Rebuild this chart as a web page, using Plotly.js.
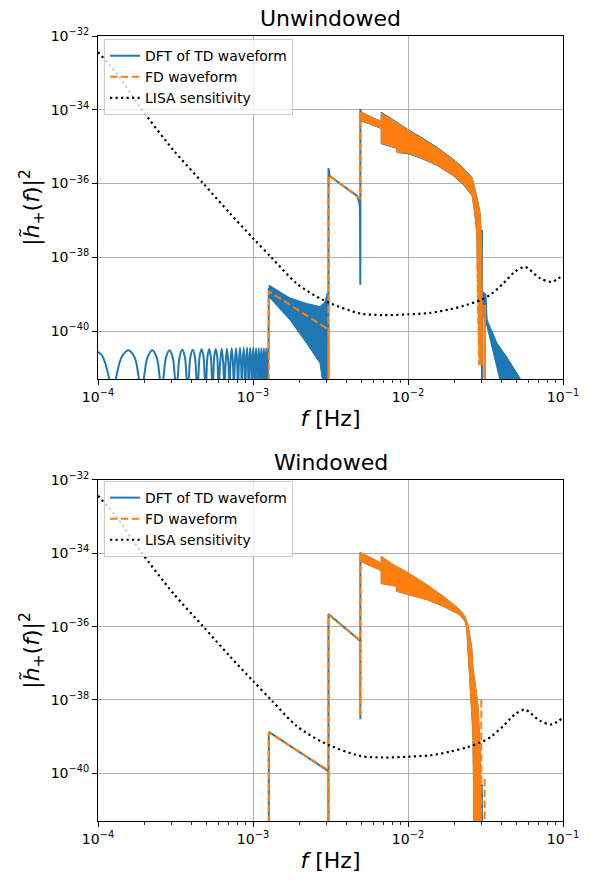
<!DOCTYPE html>
<html><head><meta charset="utf-8">
<script src="https://cdn.plot.ly/plotly-3.0.1.min.js"></script>
<style>html,body{margin:0;padding:0;background:#fff}</style>
</head><body><div id="chart" style="width:590px;height:890px"></div>
<script>
// ================= DATA =================
// Tick labels
const xTickVals = [1e-4, 1e-3, 1e-2, 1e-1];
const xTickText = ['10<sup>−4</sup>', '10<sup>−3</sup>', '10<sup>−2</sup>', '10<sup>−1</sup>'];
const yTickVals = [1e-40, 1e-38, 1e-36, 1e-34, 1e-32];
const yTickText = ['10<sup>−40</sup>', '10<sup>−38</sup>', '10<sup>−36</sup>', '10<sup>−34</sup>', '10<sup>−32</sup>'];
const xMinorVals = [2e-4,3e-4,4e-4,5e-4,6e-4,7e-4,8e-4,9e-4,2e-3,3e-3,4e-3,5e-3,6e-3,7e-3,8e-3,9e-3,2e-2,3e-2,4e-2,5e-2,6e-2,7e-2,8e-2,9e-2];

// LISA sensitivity curve
const lisaF = [1.0e-4, 1.32e-4, 1.87e-4, 3.06e-4, 4.78e-4, 7.1e-4, 1.0e-3, 1.32e-3, 1.91e-3, 2.84e-3, 4.9e-3, 6.93e-3, 1.0e-2, 1.39e-2, 1.87e-2, 2.39e-2, 2.92e-2, 3.38e-2, 4.12e-2, 4.9e-2, 5.69e-2, 6.12e-2, 7.11e-2, 8.45e-2, 1.0e-1];
const lisaS = [3.7e-33, 9.7e-34, 1.17e-34, 8.1e-36, 1.0e-36, 1.55e-37, 3.3e-38, 9.7e-39, 1.96e-39, 6.9e-40, 3.0e-40, 2.7e-40, 2.84e-40, 3.1e-40, 3.9e-40, 5.1e-40, 6.9e-40, 9.5e-40, 1.96e-39, 4.1e-39, 5.5e-39, 4.5e-39, 2.7e-39, 2.17e-39, 3.3e-39];

// ---- Unwindowed panel: DFT of TD waveform ----
// side lobes below 1.27 mHz
const dftTopLobeF = [
  1.00e-4, 1.06e-4, 1.11e-4, 1.17e-4, 1.235e-4,
  1.315e-4, 1.416e-4, 1.57e-4, 1.724e-4, 1.825e-4, 1.905e-4,
  1.985e-4, 2.086e-4, 2.24e-4, 2.394e-4, 2.495e-4, 2.575e-4,
  2.651e-4, 2.745e-4, 2.89e-4, 3.035e-4, 3.129e-4, 3.205e-4,
  3.275e-4, 3.363e-4, 3.4975e-4, 3.632e-4, 3.72e-4, 3.79e-4,
  3.86e-4, 3.948e-4, 4.0825e-4, 4.217e-4, 4.305e-4, 4.375e-4,
  4.443e-4, 4.529e-4, 4.66e-4, 4.791e-4, 4.877e-4, 4.945e-4,
  5.01e-4, 5.091e-4, 5.215e-4, 5.339e-4, 5.42e-4, 5.485e-4,
  5.549e-4, 5.628e-4, 5.75e-4, 5.872e-4, 5.951e-4, 6.015e-4,
  6.12e-4, 6.278e-4, 6.435e-4, 6.54e-4,
  6.641e-4, 6.793e-4, 6.944e-4, 7.045e-4,
  7.142e-4, 7.288e-4, 7.433e-4, 7.53e-4,
  7.626e-4, 7.77e-4, 7.914e-4, 8.01e-4,
  8.104e-4, 8.245e-4, 8.386e-4, 8.48e-4,
  8.57e-4, 8.705e-4, 8.84e-4, 8.93e-4,
  9.02e-4, 9.155e-4, 9.29e-4, 9.38e-4,
  9.469e-4, 9.603e-4, 9.736e-4, 9.825e-4,
  9.911e-4, 1.004e-3, 1.0169e-3, 1.0255e-3,
  1.0341e-3, 1.047e-3, 1.0599e-3, 1.0685e-3,
  1.0771e-3, 1.09e-3, 1.1029e-3, 1.1115e-3,
  1.1201e-3, 1.133e-3, 1.1459e-3, 1.1545e-3,
  1.1631e-3, 1.176e-3, 1.1889e-3, 1.1975e-3,
  1.2061e-3, 1.219e-3, 1.2319e-3, 1.2405e-3,
  1.2491e-3, 1.26e-3
];
const dftTopLobeH = [
  2.75e-41, 2.2e-41, 1.4e-41, 6e-42, 2e-42,
  6e-42, 1.9e-41, 3.0e-41, 1.9e-41, 6e-42, 2e-42,
  6e-42, 1.9e-41, 3.0e-41, 1.9e-41, 6e-42, 2e-42,
  6e-42, 1.9e-41, 3.0e-41, 1.9e-41, 6e-42, 2e-42,
  6e-42, 2.0e-41, 3.1e-41, 2.0e-41, 6e-42, 2e-42,
  6e-42, 2.0e-41, 3.1e-41, 2.0e-41, 6e-42, 2e-42,
  6e-42, 2.1e-41, 3.2e-41, 2.1e-41, 6e-42, 2e-42,
  6e-42, 2.1e-41, 3.2e-41, 2.1e-41, 6e-42, 2e-42,
  6e-42, 2.1e-41, 3.2e-41, 2.1e-41, 6e-42, 2e-42,
  1.2e-41, 3.3e-41, 1.2e-41, 2e-42,
  1.2e-41, 3.3e-41, 1.2e-41, 2e-42,
  1.2e-41, 3.4e-41, 1.2e-41, 2e-42,
  1.2e-41, 3.4e-41, 1.2e-41, 2e-42,
  1.2e-41, 3.5e-41, 1.2e-41, 2e-42,
  1.2e-41, 3.5e-41, 1.2e-41, 2e-42,
  1.2e-41, 3.6e-41, 1.2e-41, 2e-42,
  1.2e-41, 3.5e-41, 1.2e-41, 2e-42,
  1.2e-41, 3.5e-41, 1.2e-41, 2e-42,
  1.2e-41, 3.4e-41, 1.2e-41, 2e-42,
  1.2e-41, 3.4e-41, 1.2e-41, 2e-42,
  1.2e-41, 3.4e-41, 1.2e-41, 2e-42,
  1.2e-41, 3.4e-41, 1.2e-41, 2e-42,
  1.2e-41, 3.4e-41, 1.2e-41, 2e-42,
  1.2e-41, 3.4e-41
];
// edges of the harmonic segments and the cut-off spike
const dftTopLineF = [1.26e-3, 1.265e-3, null,
  3.065e-3, 3.07e-3, 3.12e-3, 4.70e-3, 4.85e-3, 4.90e-3, 4.925e-3, 4.93e-3, null,
  3.0e-2, 3.0e-2];
const dftTopLineH = [3.4e-41, 1.5e-39, null,
  1e-44, 2.6e-36, 1.6e-36, 4.6e-37, 3.0e-37, 2.2e-37, 1.8e-39, 1.05e-34, null,
  5.5e-38, 1e-44];
// dense oscillation band of the first harmonic (1.27 - 3.07 mHz)
const dftTopBandF = [1.265e-3, 1.733e-3, 2.221e-3, 2.704e-3, 2.914e-3, 3.013e-3, 3.02e-3, 2.842e-3, 2.704e-3, 2.221e-3, 1.733e-3, 1.265e-3];
const dftTopBandH = [1.77e-39, 7.9e-40, 5.6e-40, 4.6e-40, 6.2e-40, 1.05e-39, 3e-42, 3e-42, 1.35e-41, 4.6e-41, 2.0e-40, 8.5e-40];
// main lobe envelope (upper edge then lower edge back)
const dftTopMainF = [4.93e-3, 5.0e-3, 6.72e-3, 6.72e-3, 8.49e-3, 1.0e-2, 1.19e-2, 1.54e-2, 1.95e-2, 2.26e-2, 2.59e-2, 2.78e-2, 2.92e-2, 2.96e-2, 2.99e-2,
                     2.80e-2, 2.78e-2, 2.70e-2, 2.59e-2, 2.26e-2, 1.95e-2, 1.54e-2, 1.19e-2, 1.0e-2, 8.49e-3, 8.49e-3, 6.72e-3, 6.72e-3, 5.0e-3, 4.93e-3];
const dftTopMainH = [1.05e-34, 8.6e-35, 4.8e-35, 8.6e-35, 4.6e-35, 2.9e-35, 1.9e-35, 9.6e-36, 4.6e-36, 2.7e-36, 1.45e-36, 4.4e-37, 1.6e-37, 5.5e-38, 1.2e-38,
                     7e-39, 4.4e-38, 1.5e-37, 4.7e-37, 9.6e-37, 1.65e-36, 3.1e-36, 5.0e-36, 6.4e-36, 6.9e-36, 8.9e-36, 1.2e-35, 3.1e-35, 5.0e-35, 5.0e-35];
// tail above the cut-off
const dftTopTailF = [3.02e-2, 3.18e-2, 3.24e-2, 3.75e-2, 4.35e-2, 5.5e-2, 3.95e-2, 3.24e-2, 3.02e-2];
const dftTopTailH = [1.2e-39, 1.0e-39, 2.0e-40, 4.7e-41, 1.95e-41, 4e-42, 4e-42, 1.3e-40, 3e-40];

// ---- Unwindowed panel: FD waveform ----
const fdTopLineF = [1.265e-3, 1.265e-3, 3.065e-3, 3.067e-3, 3.07e-3, 4.93e-3, 4.93e-3, null, 2.80e-2, 2.88e-2];
const fdTopLineH = [1e-44, 1.2e-39, 1.1e-40, 1e-44, 1.7e-36, 3.8e-37, 8.7e-35, null, 7e-39, 1.2e-41];
const fdTopMainF = [4.93e-3, 6.72e-3, 6.72e-3, 8.49e-3, 1.0e-2, 1.19e-2, 1.54e-2, 1.95e-2, 2.26e-2, 2.59e-2, 2.78e-2, 2.92e-2, 2.99e-2, 3.01e-2, 3.01e-2,
                    2.88e-2, 2.80e-2, 2.78e-2, 2.70e-2, 2.59e-2, 2.26e-2, 1.95e-2, 1.54e-2, 1.19e-2, 1.0e-2, 8.49e-3, 8.49e-3, 6.72e-3, 6.72e-3, 4.93e-3, null,
                    3.06e-2, 3.16e-2, 3.16e-2, 3.06e-2];
const fdTopMainH = [8.7e-35, 4.7e-35, 8.1e-35, 4.4e-35, 2.8e-35, 1.8e-35, 9.2e-36, 4.4e-36, 2.6e-36, 1.4e-36, 4.2e-37, 1.5e-37, 1.9e-38, 5e-40, 1.2e-41,
                    1.2e-41, 7e-39, 4.6e-38, 1.6e-37, 4.9e-37, 1.0e-36, 1.7e-36, 3.2e-36, 5.2e-36, 6.7e-36, 7.1e-36, 9.2e-36, 1.26e-35, 3.2e-35, 5.2e-35, null,
                    5e-40, 5e-40, 1e-43, 1e-43];

// ---- Windowed panel: DFT of TD waveform ----
const dftBotLineF = [1.265e-3, 1.265e-3, 3.065e-3, 3.067e-3, 3.07e-3, 4.925e-3, 4.928e-3, 4.93e-3, null, 2.69e-2, 2.69e-2, null, 3.0e-2, 3.0e-2];
const dftBotLineH = [1e-44, 1.35e-39, 1.15e-40, 1e-44, 2.2e-36, 4.1e-37, 3.0e-39, 1.06e-34, null, 1.5e-40, 1e-44, null, 5e-41, 1e-44];
const dftBotMainF = [4.93e-3, 6.72e-3, 6.72e-3, 8.03e-3, 1.005e-2, 1.32e-2, 1.69e-2, 2.16e-2, 2.33e-2, 2.45e-2, 2.51e-2, 2.58e-2, 2.62e-2, 2.83e-2, 2.92e-2, 2.99e-2,
                     2.70e-2, 2.62e-2, 2.51e-2, 2.39e-2, 2.33e-2, 2.16e-2, 1.69e-2, 1.32e-2, 1.005e-2, 8.46e-3, 8.46e-3, 6.72e-3, 6.72e-3, 4.93e-3];
const dftBotMainH = [1.05e-34, 5.4e-35, 8.2e-35, 4.9e-35, 2.9e-35, 1.4e-35, 6.7e-36, 2.9e-36, 1.9e-36, 1.03e-36, 5.5e-37, 2.4e-37, 8.3e-38, 6.8e-39, 4.6e-40, 1e-43,
                     1e-43, 1.33e-39, 3.0e-38, 9.3e-37, 1.4e-36, 2.1e-36, 3.6e-36, 5.5e-36, 7.5e-36, 9.2e-36, 1.26e-35, 1.5e-35, 3.4e-35, 6.0e-35];

// ---- Windowed panel: FD waveform ----
const fdBotLineF = [1.265e-3, 1.265e-3, 3.065e-3, 3.067e-3, 3.07e-3, 4.925e-3, 4.928e-3, 4.93e-3, null, 2.97e-2, 2.97e-2, null, 3.12e-2, 3.12e-2];
const fdBotLineH = [1e-44, 1.3e-39, 1.2e-40, 1e-44, 2.1e-36, 4.2e-37, 3.7e-39, 1.06e-34, null, 1.0e-38, 1e-44, null, 7e-41, 1e-44];
const fdBotMainF = [4.93e-3, 6.72e-3, 6.72e-3, 8.03e-3, 1.005e-2, 1.32e-2, 1.69e-2, 2.16e-2, 2.33e-2, 2.45e-2, 2.51e-2, 2.58e-2, 2.62e-2, 2.83e-2, 2.92e-2, 3.0e-2,
                    2.70e-2, 2.62e-2, 2.51e-2, 2.39e-2, 2.33e-2, 2.16e-2, 1.69e-2, 1.32e-2, 1.005e-2, 8.46e-3, 8.46e-3, 6.72e-3, 6.72e-3, 4.93e-3];
const fdBotMainH = [1.06e-34, 5.4e-35, 8.2e-35, 4.9e-35, 2.9e-35, 1.4e-35, 6.7e-36, 2.9e-36, 1.9e-36, 1.03e-36, 5.5e-37, 2.4e-37, 8.3e-38, 6.8e-39, 4.6e-40, 1e-43,
                    1e-43, 1.33e-39, 3.0e-38, 9.3e-37, 1.4e-36, 2.1e-36, 3.6e-36, 5.5e-36, 7.5e-36, 9.2e-36, 1.26e-35, 1.5e-35, 3.4e-35, 6.0e-35];

// ================= STYLES =================
const BLUE = '#1f77b4', ORANGE = '#ff7f0e';
const LW = 2;
const fdDash = '7.5px,3.3px';
const lisaDash = '2.2px,3.3px';

function poly(x, y, color, xa, ya) {
  return {x: x, y: y, xaxis: xa, yaxis: ya, type: 'scatter', mode: 'lines', fill: 'toself',
          fillcolor: color, line: {color: color, width: 1, simplify: false}, showlegend: false, hoverinfo: 'skip'};
}
function line(x, y, color, dash, name, xa, ya, leg) {
  return {x: x, y: y, xaxis: xa, yaxis: ya, type: 'scatter', mode: 'lines', name: name,
          line: {color: color, width: LW, dash: dash, simplify: false}, connectgaps: false,
          legend: leg, hoverinfo: 'skip'};
}
function lisa(xa, ya, leg) {
  return {x: lisaF, y: lisaS, xaxis: xa, yaxis: ya, type: 'scatter', mode: 'lines', name: 'LISA sensitivity',
          line: {color: 'black', width: 2.2, dash: lisaDash, shape: 'spline', smoothing: 0.8}, legend: leg, hoverinfo: 'skip'};
}

const lobes = {x: dftTopLobeF, y: dftTopLobeH, xaxis: 'x', yaxis: 'y', type: 'scatter', mode: 'lines',
  line: {color: BLUE, width: LW, shape: 'spline', smoothing: 1, simplify: false}, showlegend: false, hoverinfo: 'skip'};

const traces = [
  // top
  poly(dftTopBandF, dftTopBandH, BLUE, 'x', 'y'),
  poly(dftTopMainF, dftTopMainH, BLUE, 'x', 'y'),
  poly(dftTopTailF, dftTopTailH, BLUE, 'x', 'y'),
  lobes,
  line(dftTopLineF, dftTopLineH, BLUE, 'solid', 'DFT of TD waveform', 'x', 'y', 'legend'),
  line(fdTopLineF, fdTopLineH, ORANGE, fdDash, 'FD waveform', 'x', 'y', 'legend'),
  poly(fdTopMainF, fdTopMainH, ORANGE, 'x', 'y'),
  lisa('x', 'y', 'legend'),
  // bottom
  poly(dftBotMainF, dftBotMainH, BLUE, 'x2', 'y2'),
  line(dftBotLineF, dftBotLineH, BLUE, 'solid', 'DFT of TD waveform', 'x2', 'y2', 'legend2'),
  line(fdBotLineF, fdBotLineH, ORANGE, fdDash, 'FD waveform', 'x2', 'y2', 'legend2'),
  poly(fdBotMainF, fdBotMainH, ORANGE, 'x2', 'y2'),
  lisa('x2', 'y2', 'legend2')
];

const FONT = 'DejaVu Sans';
function xAxis(anchor) {
  return {type: 'log', range: [-4, -1], domain: [0, 1], anchor: anchor,
    tickmode: 'array', tickvals: xTickVals, ticktext: xTickText,
    ticks: 'outside', ticklen: 5, tickwidth: 1, tickcolor: 'black',
    showline: true, mirror: true, linecolor: 'black', linewidth: 1,
    showgrid: true, gridcolor: '#b0b0b0', gridwidth: 1,
    tickfont: {family: FONT, size: 14, color: 'black'},
    minor: {tickmode: 'array', tickvals: xMinorVals, ticks: 'outside', ticklen: 3, tickwidth: 0.8, tickcolor: 'black', showgrid: false},
    title: {text: '<i>f</i> [Hz]', font: {family: FONT, size: 22, color: 'black'}, standoff: 6}};
}
function yAxis(anchor, dom) {
  return {type: 'log', range: [-41.3, -32], domain: dom, anchor: anchor,
    tickmode: 'array', tickvals: yTickVals, ticktext: yTickText,
    ticks: 'outside', ticklen: 5, tickwidth: 1, tickcolor: 'black',
    showline: true, mirror: true, linecolor: 'black', linewidth: 1,
    showgrid: true, gridcolor: '#b0b0b0', gridwidth: 1,
    tickfont: {family: FONT, size: 14, color: 'black'},
    title: {text: '|<i>h̃</i><sub>+</sub>(<i>f</i>)|<sup>2</sup>', font: {family: FONT, size: 22, color: 'black'}, standoff: 4}};
}
function legendStyle(y) {
  return {x: 0.013, y: y, xanchor: 'left', yanchor: 'top', bgcolor: 'rgba(255,255,255,0.8)',
    bordercolor: '#cccccc', borderwidth: 1, font: {family: FONT, size: 13.9, color: 'black'},
    itemwidth: 30, tracegroupgap: 0};
}

const layout = {
  width: 590, height: 890,
  margin: {l: 98, r: 27, t: 36, b: 69, pad: 0},
  paper_bgcolor: 'white', plot_bgcolor: 'white',
  font: {family: FONT, size: 14, color: 'black'},
  showlegend: true,
  xaxis: xAxis('y'),
  yaxis: yAxis('x', [0.5631, 1]),
  xaxis2: xAxis('y2'),
  yaxis2: yAxis('x2', [0, 0.4344]),
  legend: legendStyle(0.996),
  legend2: legendStyle(0.433),
  annotations: [
    {text: 'Unwindowed', xref: 'paper', yref: 'paper', x: 0.5, y: 1, xanchor: 'center', yanchor: 'bottom', yshift: 3,
     showarrow: false, font: {family: FONT, size: 22, color: 'black'}},
    {text: 'Windowed', xref: 'paper', yref: 'paper', x: 0.5, y: 0.4344, xanchor: 'center', yanchor: 'bottom', yshift: 3,
     showarrow: false, font: {family: FONT, size: 22, color: 'black'}}
  ]
};

Plotly.newPlot('chart', traces, layout, {staticPlot: true, displayModeBar: false});
</script></body></html>
